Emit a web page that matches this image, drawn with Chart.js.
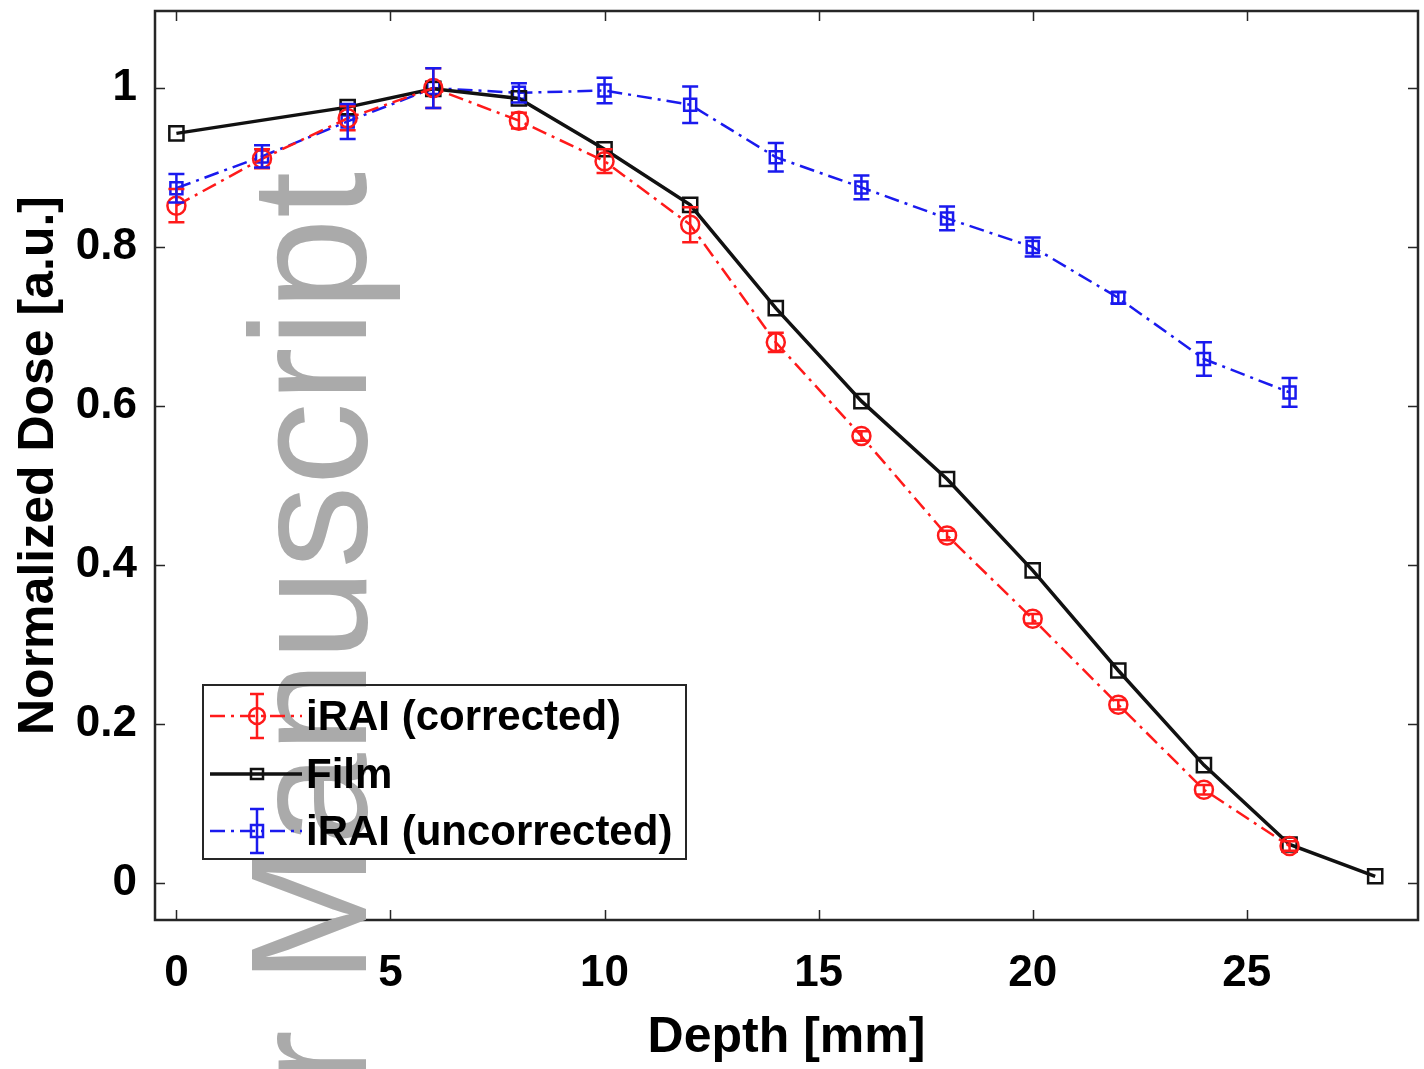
<!DOCTYPE html>
<html>
<head>
<meta charset="utf-8">
<script src="https://cdn.jsdelivr.net/npm/chart.js@4/dist/chart.umd.min.js"></script>
<style>
html,body{margin:0;padding:0;background:#fff;}
canvas{display:block;}
</style>
</head>
<body>
<canvas id="c" width="1424" height="1069"></canvas>
<script>
// ---- data ----
const depthIRAI = [0, 2, 4, 6, 8, 10, 12, 14, 16, 18, 20, 22, 24, 26];
const correctedDose = [0.852, 0.911, 0.962, 1.0, 0.959, 0.908, 0.828, 0.680, 0.562, 0.437, 0.332, 0.224, 0.117, 0.046];
const correctedErr  = [0.021, 0.012, 0.015, 0.025, 0.010, 0.015, 0.022, 0.012, 0.006, 0.006, 0.006, 0.006, 0.006, 0.006];
const uncorrectedDose = [0.874, 0.914, 0.958, 1.0, 0.994, 0.997, 0.979, 0.913, 0.875, 0.836, 0.800, 0.736, 0.659, 0.617];
const uncorrectedErr  = [0.018, 0.014, 0.022, 0.025, 0.012, 0.016, 0.023, 0.018, 0.015, 0.015, 0.012, 0.007, 0.021, 0.018];
const depthFilm = [0, 4, 6, 8, 10, 12, 14, 16, 18, 20, 22, 24, 26, 28];
const filmDose = [0.943, 0.976, 0.999, 0.987, 0.923, 0.853, 0.723, 0.606, 0.508, 0.393, 0.267, 0.148, 0.048, 0.008];
const xTicks = [0, 5, 10, 15, 20, 25];
const yTicks = [0, 0.2, 0.4, 0.6, 0.8, 1];
const seriesLabels = ['iRAI (corrected)', 'Film', 'iRAI (uncorrected)'];
const xTitle = 'Depth [mm]';
const yTitle = 'Normalized Dose [a.u.]';
const watermark = 'Author Manuscript';

const RED = '#ff1a1a', BLUE = '#1a1aee', BLACK = '#111111';
const DASHDOT = [15, 6, 3, 6];
const FONT = '"Liberation Sans", Arial, sans-serif';

function pts(xs, ys) { return xs.map((x, i) => ({x: x, y: ys[i]})); }
function noPad(s) { s.paddingTop = 0; s.paddingBottom = 0; s.paddingLeft = 0; s.paddingRight = 0; }

const errorBars = {
  id: 'errorBars',
  afterDatasetsDraw(chart) {
    const ctx = chart.ctx;
    const xs = chart.scales.x, ys = chart.scales.y;
    const sets = [[depthIRAI, correctedDose, correctedErr, RED], [depthIRAI, uncorrectedDose, uncorrectedErr, BLUE]];
    ctx.save();
    ctx.lineWidth = 2.5;
    sets.forEach(([dx, dy, de, col]) => {
      ctx.strokeStyle = col;
      dx.forEach((x, i) => {
        const px = xs.getPixelForValue(x);
        const y1 = ys.getPixelForValue(dy[i] + de[i]);
        const y2 = ys.getPixelForValue(dy[i] - de[i]);
        ctx.beginPath();
        ctx.moveTo(px, y1); ctx.lineTo(px, y2);
        ctx.moveTo(px - 8, y1); ctx.lineTo(px + 8, y1);
        ctx.moveTo(px - 8, y2); ctx.lineTo(px + 8, y2);
        ctx.stroke();
      });
    });
    ctx.restore();
  }
};

const frame = {
  id: 'frame',
  afterDraw(chart) {
    const ctx = chart.ctx;
    const a = chart.chartArea;
    const xs = chart.scales.x, ys = chart.scales.y;
    ctx.save();
    ctx.strokeStyle = '#262626';
    ctx.lineWidth = 2.5;
    ctx.strokeRect(a.left, a.top, a.right - a.left, a.bottom - a.top);
    const tl = 10;
    ctx.beginPath();
    xTicks.forEach(t => {
      const px = Math.round(xs.getPixelForValue(t)) + 0.5;
      ctx.moveTo(px, a.bottom); ctx.lineTo(px, a.bottom - tl);
      ctx.moveTo(px, a.top); ctx.lineTo(px, a.top + tl);
    });
    yTicks.forEach(t => {
      const py = Math.round(ys.getPixelForValue(t)) + 0.5;
      ctx.moveTo(a.left, py); ctx.lineTo(a.left + tl, py);
      ctx.moveTo(a.right, py); ctx.lineTo(a.right - tl, py);
    });
    ctx.lineWidth = 1.5;
    ctx.stroke();

    // watermark
    ctx.save();
    ctx.fillStyle = '#aaaaaa';
    ctx.font = '166px ' + FONT;
    ctx.translate(366, 172);
    ctx.rotate(-Math.PI / 2);
    ctx.textAlign = 'right';
    ctx.textBaseline = 'alphabetic';
    ctx.fillText(watermark, 0, 0);
    ctx.restore();

    // legend
    const L = {x1: 203, y1: 685, x2: 686, y2: 859};
    ctx.lineWidth = 2;
    ctx.strokeStyle = '#262626';
    ctx.strokeRect(L.x1, L.y1, L.x2 - L.x1, L.y2 - L.y1);
    const rows = [716, 774, 831];
    const styles = [
      {col: RED, dash: DASHDOT, lw: 2.5, mk: 'circle', err: true},
      {col: BLACK, dash: [], lw: 3.5, mk: 'square', err: false},
      {col: BLUE, dash: DASHDOT, lw: 2.5, mk: 'square', err: true}
    ];
    rows.forEach((ry, i) => {
      const s = styles[i];
      ctx.strokeStyle = s.col;
      ctx.lineWidth = s.lw;
      ctx.setLineDash(s.dash);
      ctx.beginPath(); ctx.moveTo(210, ry); ctx.lineTo(302, ry); ctx.stroke();
      ctx.setLineDash([]);
      ctx.lineWidth = 2.5;
      if (s.err) {
        ctx.beginPath();
        ctx.moveTo(257, ry - 22); ctx.lineTo(257, ry + 22);
        ctx.moveTo(250, ry - 22); ctx.lineTo(264, ry - 22);
        ctx.moveTo(250, ry + 22); ctx.lineTo(264, ry + 22);
        ctx.stroke();
      }
      ctx.beginPath();
      if (s.mk === 'circle') ctx.arc(257, ry, 8, 0, Math.PI * 2);
      else if (i === 1) ctx.rect(251, ry - 5, 12, 10);
      else ctx.rect(251, ry - 6, 12, 12);
      ctx.stroke();
      ctx.fillStyle = '#000';
      ctx.font = 'bold 42px ' + FONT;
      ctx.textAlign = 'left';
      ctx.textBaseline = 'middle';
      ctx.fillText(seriesLabels[i], 306, ry + 2);
    });
    ctx.restore();
  }
};

new Chart(document.getElementById('c'), {
  type: 'scatter',
  data: {
    datasets: [
      {label: seriesLabels[0], data: pts(depthIRAI, correctedDose), showLine: true,
       borderColor: RED, borderWidth: 2.5, borderDash: DASHDOT, backgroundColor: 'rgba(0,0,0,0)',
       pointStyle: 'circle', pointRadius: 9, pointBorderColor: RED, pointBorderWidth: 2.5, pointBackgroundColor: 'rgba(0,0,0,0)'},
      {label: seriesLabels[1], data: pts(depthFilm, filmDose), showLine: true,
       borderColor: BLACK, borderWidth: 3.5, backgroundColor: 'rgba(0,0,0,0)',
       pointStyle: 'rect', pointRadius: 10, pointBorderColor: BLACK, pointBorderWidth: 2.5, pointBackgroundColor: 'rgba(0,0,0,0)'},
      {label: seriesLabels[2], data: pts(depthIRAI, uncorrectedDose), showLine: true,
       borderColor: BLUE, borderWidth: 2.5, borderDash: DASHDOT, backgroundColor: 'rgba(0,0,0,0)',
       pointStyle: 'rect', pointRadius: 8.5, pointBorderColor: BLUE, pointBorderWidth: 2.5, pointBackgroundColor: 'rgba(0,0,0,0)'}
    ]
  },
  options: {
    responsive: false,
    animation: false,
    layout: {autoPadding: false, padding: {top: 11, right: 6, left: 0, bottom: 0}},
    plugins: {legend: {display: false}, tooltip: {enabled: false}},
    scales: {
      x: {
        type: 'linear', min: -0.5, max: 29,
        afterBuildTicks: s => { s.ticks = xTicks.map(v => ({value: v})); },
        afterFit: s => { s.height = 149; noPad(s); },
        grid: {display: false, drawTicks: false},
        border: {display: false},
        ticks: {padding: 27, color: '#000', font: {family: FONT, size: 44, weight: 'bold'}, callback: v => String(v), maxRotation: 0, autoSkip: false},
        title: {display: true, text: xTitle, color: '#000', padding: 1, font: {family: FONT, size: 50, weight: 'bold'}}
      },
      y: {
        type: 'linear', min: -0.047, max: 1.097,
        afterBuildTicks: s => { s.ticks = yTicks.map(v => ({value: v})); },
        afterFit: s => { s.width = 155; noPad(s); },
        grid: {display: false, drawTicks: false},
        border: {display: false},
        ticks: {padding: 18, color: '#000', font: {family: FONT, size: 44, weight: 'bold'}, callback: v => String(Math.round(v * 10) / 10), autoSkip: false},
        title: {display: true, text: yTitle, color: '#000', padding: 9, font: {family: FONT, size: 50, weight: 'bold'}}
      }
    }
  },
  plugins: [errorBars, frame]
});
</script>
</body>
</html>
